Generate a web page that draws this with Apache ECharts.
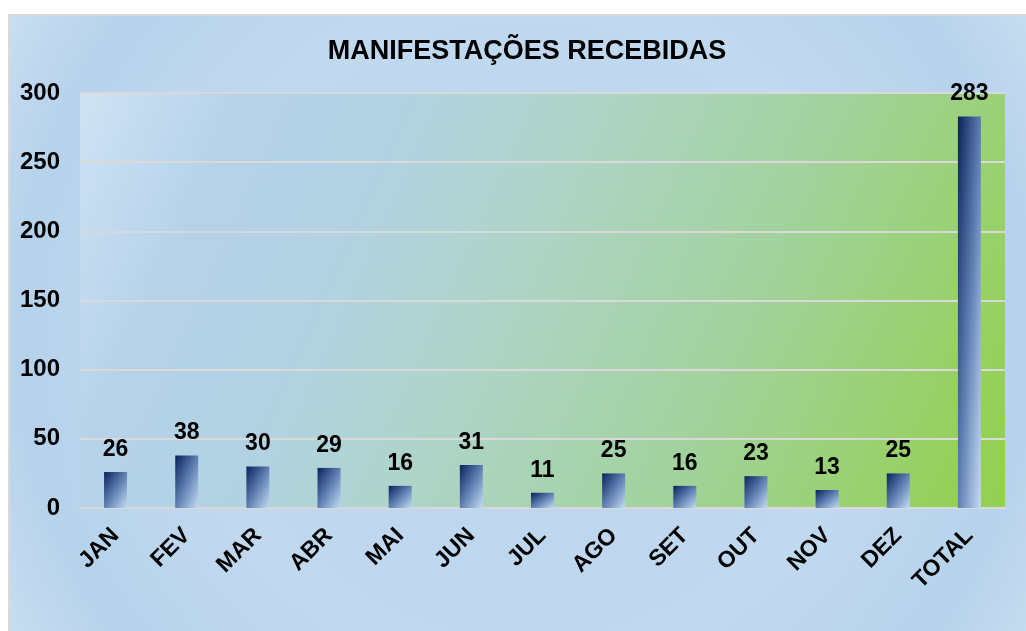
<!DOCTYPE html>
<html>
<head>
<meta charset="utf-8">
<script src="https://cdn.jsdelivr.net/npm/echarts@6/dist/echarts.min.js"></script>
<style>
html,body{margin:0;padding:0;background:#fff;}
#c{width:1026px;height:631px;}
</style>
</head>
<body>
<div id="c"></div>
<script>
const categories = ['JAN','FEV','MAR','ABR','MAI','JUN','JUL','AGO','SET','OUT','NOV','DEZ','TOTAL'];
const values = [26,38,30,29,16,31,11,25,16,23,13,25,283];
const title = 'MANIFESTAÇÕES RECEBIDAS';
const yMin = 0, yMax = 300, yStep = 50;

const FONT = 'Arial, "Liberation Sans", sans-serif';
const plotH = 415;
const barW = 23;
// Emulate a gradient that is stretched with the bar's shape (diagonal in unit space)
const data = values.map(v => {
  const h = v * plotH / (yMax - yMin);
  const w = barW;
  const s = h * h + w * w;
  return {
    value: v,
    itemStyle: {
      color: {
        type: 'linear', x: 0, y: 0, x2: 2 * h * h / s, y2: 2 * w * w / s,
        colorStops: [
          {offset: 0, color: '#0a215c'},
          {offset: 0.5, color: '#5f7fb2'},
          {offset: 1, color: '#c4dcf2'}
        ]
      }
    }
  };
});

const chart = echarts.init(document.getElementById('c'), null, {renderer: 'canvas'});
chart.setOption({
  backgroundColor: '#ffffff',
  animation: false,
  graphic: [{
    type: 'rect', z: -10, silent: true,
    shape: {x: 9, y: 15, width: 1030, height: 630},
    style: {
      fill: {
        type: 'radial', x: 0.5, y: 0.5, r: 1.0,
        colorStops: [
          {offset: 0, color: '#b8d4ec'},
          {offset: 0.55, color: '#c1d9ef'},
          {offset: 0.8, color: '#b6d2eb'},
          {offset: 1, color: '#cfe2f3'}
        ]
      },
      stroke: '#d9d9d9', lineWidth: 2
    }
  }],
  title: {
    text: title,
    left: 522, top: 33, textAlign: 'center',
    textStyle: {fontFamily: FONT, fontWeight: 'bold', fontSize: 27, color: '#000'}
  },
  grid: {
    left: 80, top: 93, width: 925, height: plotH,
    show: true, borderWidth: 0,
    backgroundColor: {
      type: 'linear', x: 0, y: 0, x2: 1, y2: 1,
      colorStops: [
        {offset: 0, color: '#d0e3f4'},
        {offset: 0.15, color: '#b5d2ea'},
        {offset: 0.3, color: '#b2d2e2'},
        {offset: 0.46, color: '#aed4c8'},
        {offset: 0.69, color: '#a2d29c'},
        {offset: 0.94, color: '#95d05a'},
        {offset: 1, color: '#92d050'}
      ]
    }
  },
  xAxis: {
    type: 'category', data: categories,
    axisLine: {show: true, lineStyle: {color: '#d9d9d9', width: 2}},
    axisTick: {show: false},
    axisLabel: {rotate: 45, margin: 24, interval: 0, color: '#000', fontFamily: FONT, fontWeight: 'bold', fontSize: 23}
  },
  yAxis: {
    type: 'value', min: yMin, max: yMax, interval: yStep,
    axisLine: {show: false}, axisTick: {show: false},
    splitLine: {lineStyle: {color: '#d9d9d9', width: 2}},
    axisLabel: {margin: 20, color: '#000', fontFamily: FONT, fontWeight: 'bold', fontSize: 24}
  },
  series: [{
    type: 'bar', data: data, barWidth: barW,
    label: {show: true, position: 'top', distance: 11, color: '#000', fontFamily: FONT, fontWeight: 'bold', fontSize: 23}
  }]
});
</script>
</body>
</html>
